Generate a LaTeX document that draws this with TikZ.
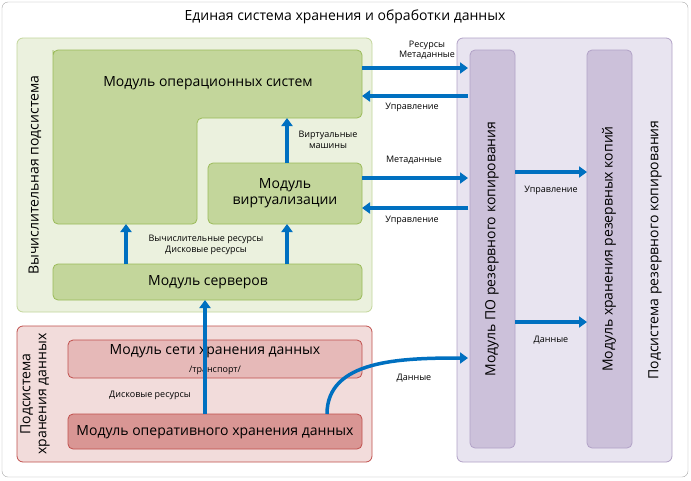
\documentclass[tikz,border=0pt]{standalone}
\usepackage{fontspec}
\setmainfont{Open Sans}
\usetikzlibrary{arrows.meta}
\definecolor{arr}{HTML}{0070C0}
\tikzset{
 x=1pt,y=-1pt,
 frame/.style={rounded corners=6pt, line width=0.8pt},
 box/.style={rounded corners=5pt, line width=0.8pt},
 big/.style={font=\fontsize{14}{16}\selectfont, align=center},
 sm/.style={font=\fontsize{9}{10.5}\selectfont, align=center},
 ar/.style={draw=arr, line width=3.5pt, -{Triangle[length=8pt,width=11pt]}},
}
\begin{document}
\begin{tikzpicture}
\useasboundingbox (0,0) rectangle (691,480);
\draw[draw=gray!70, rounded corners=6pt, fill=white] (2,2) rectangle (688,477);
\node[big] (title) at (345,17) {Единая система хранения и обработки данных};
% green
\draw[frame, draw={rgb,255:red,195;green,214;blue,155}, fill={rgb,255:red,235;green,241;blue,222}] (17,38) rectangle (372,312);
\node[big, rotate=90] (gl) at (35,175) {Вычислительная подсистема};
\draw[box, draw={rgb,255:red,155;green,187;blue,89}, fill={rgb,255:red,195;green,214;blue,155}] (53,55) [rounded corners=5pt] -- (53,50) -- (362,50) -- (362,118) -- (197,118) -- (197,224) -- (53,224) -- cycle;
\node[big] (os) at (208,83) {Модуль операционных систем};
\draw[box, draw={rgb,255:red,155;green,187;blue,89}, fill={rgb,255:red,195;green,214;blue,155}] (208,163) rectangle (362,224);
\node[big] (virt) at (285,193) {Модуль\\виртуализации};
\draw[box, draw={rgb,255:red,155;green,187;blue,89}, fill={rgb,255:red,195;green,214;blue,155}] (53,264) rectangle (362,300);
\node[big] (srv) at (208,282) {Модуль серверов};
% red
\draw[frame, draw={rgb,255:red,192;green,80;blue,77}, fill={rgb,255:red,242;green,220;blue,219}] (17,326) rectangle (372,462);
\node[big, rotate=90] (rl) at (35,394) {Подсистема\\хранения данных};
\draw[box, draw={rgb,255:red,192;green,80;blue,77}, fill={rgb,255:red,230;green,185;blue,184}] (68,340) rectangle (362,378);
\node[big] (net) at (215,351) {Модуль сети хранения данных};
\node[sm] (tr) at (215,370) {/транспорт/};
\draw[box, draw={rgb,255:red,192;green,80;blue,77}, fill={rgb,255:red,217;green,150;blue,148}] (68,414) rectangle (362,449);
\node[big] (op) at (215,432) {Модуль оперативного хранения данных};
% purple
\draw[frame, draw={rgb,255:red,178;green,162;blue,199}, fill={rgb,255:red,232;green,228;blue,240}] (457,38) rectangle (672,462);
\node[big, rotate=90] (pl) at (655,250) {Подсистема резервного копирования};
\draw[box, draw={rgb,255:red,178;green,162;blue,199}, fill={rgb,255:red,204;green,193;blue,218}] (470,50) rectangle (515,448);
\node[big, rotate=90] (bsw) at (492,249) {Модуль ПО резервного копирования};
\draw[box, draw={rgb,255:red,178;green,162;blue,199}, fill={rgb,255:red,204;green,193;blue,218}] (587,50) rectangle (632,448);
\node[big, rotate=90] (bst) at (609,249) {Модуль хранения резервных копий};
% arrows
\draw[ar] (362,68) -- (468,68);
\node[sm] (l1) at (427,50) {Ресурсы\\Метаданные};
\draw[ar] (468,96) -- (362,96);
\node[sm] (l2) at (412,107) {Управление};
\draw[ar] (362,178) -- (468,178);
\node[sm] (l3) at (414,160) {Метаданные};
\draw[ar] (468,208) -- (362,208);
\node[sm] (l4) at (412,220) {Управление};
\draw[ar] (287,163) -- (287,118);
\node[sm] (l5) at (328,140) {Виртуальные\\машины};
\draw[ar] (126,264) -- (126,224);
\draw[ar] (287,264) -- (287,224);
\node[sm] (l6) at (206,245) {Вычислительные ресурсы\\Дисковые ресурсы};
\draw[ar] (205,414) -- (205,300);
\node[sm] (l7) at (150,395) {Дисковые ресурсы};
\draw[ar] (327,414) .. controls (327,360) and (400,358) .. (468,358);
\node[sm] (l8) at (414,378) {Данные};
\draw[ar] (515,172) -- (587,172);
\node[sm] (l9) at (551,190) {Управление};
\draw[ar] (515,322) -- (587,322);
\node[sm] (l10) at (551,340) {Данные};
\end{tikzpicture}
\end{document}
